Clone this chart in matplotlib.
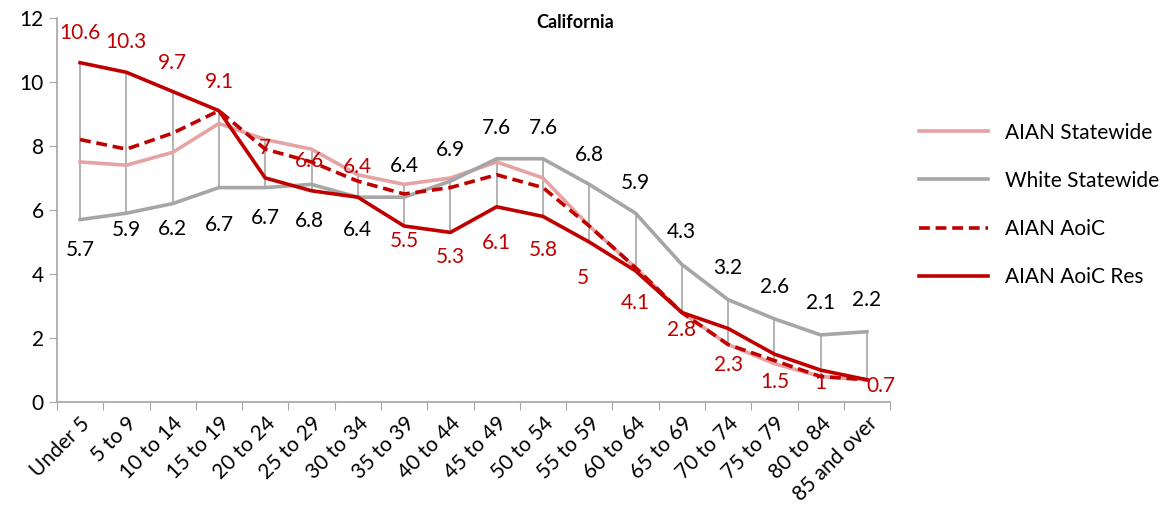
import matplotlib
matplotlib.use("Agg")
import matplotlib.pyplot as plt
import numpy as np

matplotlib.rcParams["font.family"] = ["Lato", "DejaVu Sans"]
matplotlib.rcParams["font.size"] = 14

ages = ["Under 5", "5 to 9", "10 to 14", "15 to 19", "20 to 24", "25 to 29",
        "30 to 34", "35 to 39", "40 to 44", "45 to 49", "50 to 54", "55 to 59",
        "60 to 64", "65 to 69", "70 to 74", "75 to 79", "80 to 84", "85 and over"]

aian_state = [7.5, 7.4, 7.8, 8.7, 8.2, 7.9, 7.1, 6.8, 7.0, 7.5, 7.0, 5.5,
              4.2, 2.8, 1.8, 1.2, 0.8, 0.7]
white_state = [5.7, 5.9, 6.2, 6.7, 6.7, 6.8, 6.4, 6.4, 6.9, 7.6, 7.6, 6.8,
               5.9, 4.3, 3.2, 2.6, 2.1, 2.2]
aian_aoic = [8.2, 7.9, 8.4, 9.1, 7.9, 7.5, 6.9, 6.5, 6.7, 7.1, 6.7, 5.5,
             4.2, 2.8, 1.8, 1.3, 0.8, 0.7]
aian_aoic_res = [10.6, 10.3, 9.7, 9.1, 7.0, 6.6, 6.4, 5.5, 5.3, 6.1, 5.8, 5.0,
                 4.1, 2.8, 2.3, 1.5, 1.0, 0.7]

# label offsets in pixels (dx, dy)
res_off = [(0, 30), (0, 30), (0, 29), (0, 29), (0, 30), (-2, 30), (0, 30),
           (0, -15), (0, -25), (0, -36), (0, -34), (-6, -36), (0, -32),
           (0, -18), (0, -37), (0, -28), (0, -13), (14, -6)]
white_off = [(0, -30), (0, -17), (0, -25), (0, -37), (0, -30), (-2, -37),
             (0, -33), (0, 31), (0, 31), (0, 31), (0, 31), (0, 29), (0, 30),
             (0, 32), (0, 32), (0, 32), (0, 32), (0, 32)]

red = "#C00000"
pink = "#E6A3A3"
grey = "#A6A6A6"

fig = plt.figure(figsize=(11.62, 5.25), dpi=100)
ax = fig.add_axes([0.049, 0.234, 0.717, 0.732])

x = np.arange(len(ages)) + 0.5
allv = np.array([aian_state, white_state, aian_aoic, aian_aoic_res])
ax.vlines(x, allv.min(axis=0), allv.max(axis=0), color=grey, lw=1.2, zorder=1)

ax.plot(x, aian_state, color=pink, lw=2.6, label="AIAN Statewide", zorder=2)
ax.plot(x, white_state, color=grey, lw=2.6, label="White Statewide", zorder=2)
ax.plot(x, aian_aoic, color=red, lw=2.6, ls=(0, (3, 1.6)), label="AIAN AoiC", zorder=3)
ax.plot(x, aian_aoic_res, color=red, lw=2.6, label="AIAN AoiC Res", zorder=4)

for xi, v, (dx, dy) in zip(x, aian_aoic_res, res_off):
    ax.annotate(f"{v:g}", (xi, v), xytext=(dx, dy), textcoords="offset pixels",
                ha="center", va="center", color=red, fontsize=15)
for xi, v, (dx, dy) in zip(x, white_state, white_off):
    ax.annotate(f"{v:g}", (xi, v), xytext=(dx, dy), textcoords="offset pixels",
                ha="center", va="center", color="black", fontsize=15)

ax.set_xlim(0, len(ages))
ax.set_ylim(0, 12)
ax.set_yticks(range(0, 13, 2))
ax.set_xticks(np.arange(len(ages) + 1))
ax.set_xticklabels([])
ax.set_xticks(x, minor=True)
ax.set_xticklabels(ages, minor=True, rotation=45, ha="right", rotation_mode="anchor")
ax.tick_params(axis="x", which="minor", length=0, pad=8, labelsize=15)
ax.tick_params(axis="x", which="major", length=6, color=grey, direction="out")
ax.tick_params(axis="y", length=6, color=grey, direction="out", labelsize=15)

for s in ["top", "right"]:
    ax.spines[s].set_visible(False)
for s in ["left", "bottom"]:
    ax.spines[s].set_color(grey)
    ax.spines[s].set_linewidth(1.2)

fig.text(0.495, 0.958, "California", fontsize=13, fontweight="bold",
         ha="center", va="center")

fig.legend(loc="center left", bbox_to_anchor=(0.775, 0.61), frameon=False,
           handlelength=3.3, labelspacing=1.35, fontsize=15)

fig.savefig("out.png", dpi=100)
